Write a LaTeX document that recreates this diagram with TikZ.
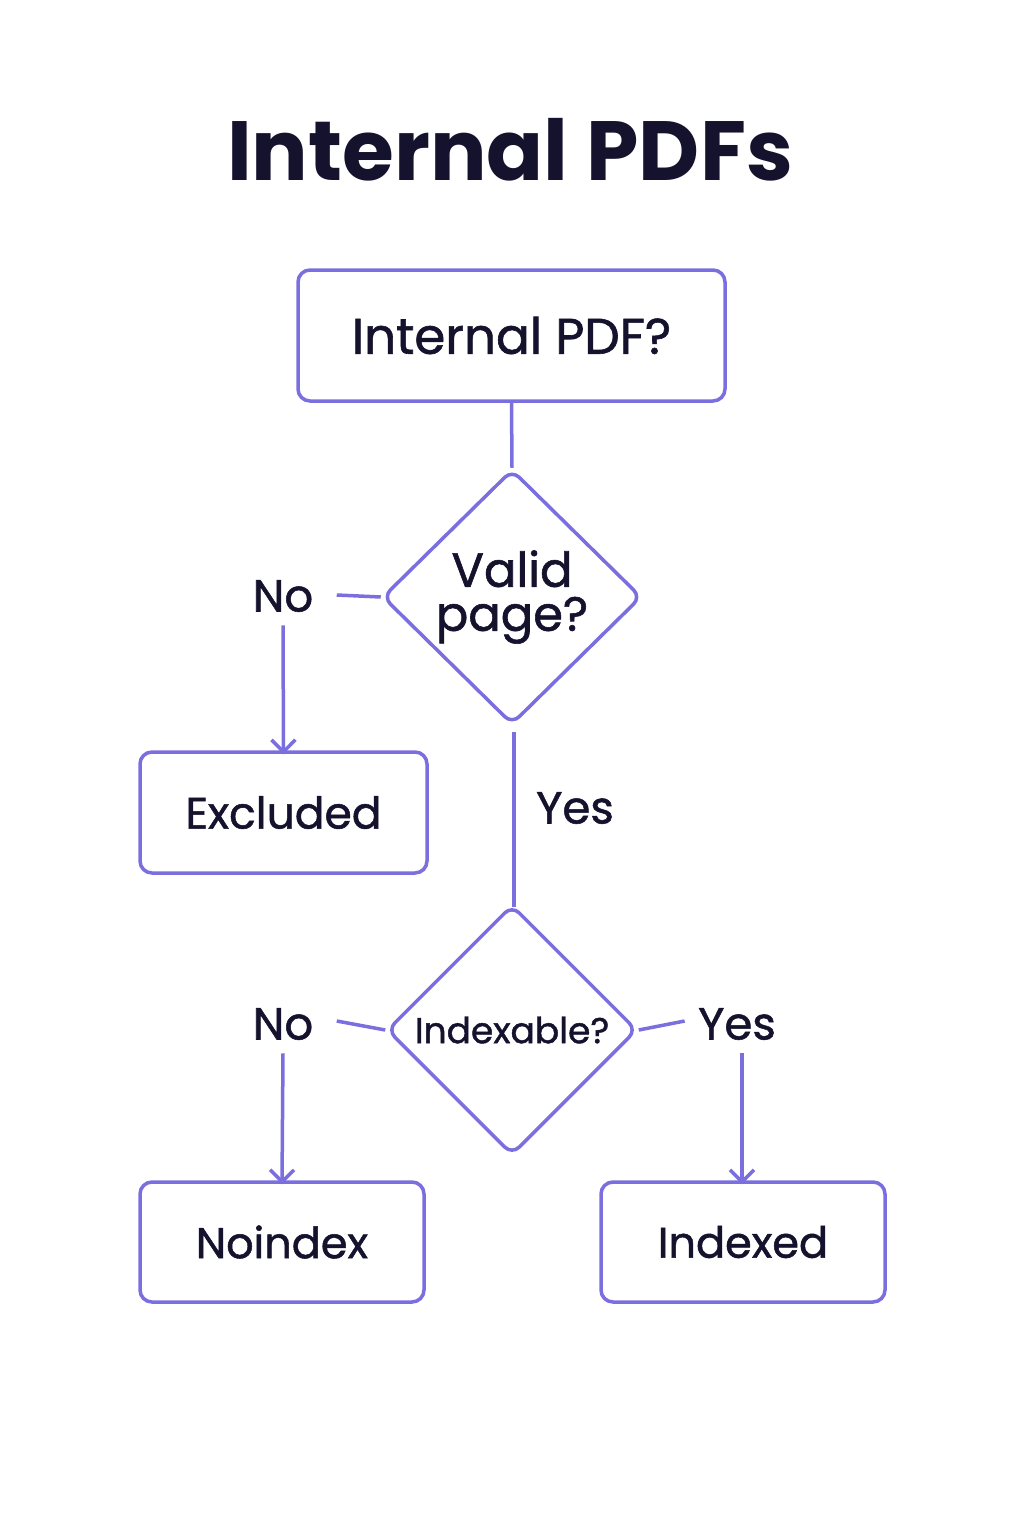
\documentclass[tikz,border=0pt]{standalone}
\usepackage{fontspec}
\setmainfont{Poppins}
\usetikzlibrary{shapes.geometric,arrows.meta}
\definecolor{pur}{HTML}{7B6FE0}
\definecolor{ink}{HTML}{15122D}
\newcommand{\fb}{\addfontfeature{FakeBold=1.2}}
\begin{document}
\begin{tikzpicture}[x=1pt,y=-1pt,
 box/.style={draw=pur,line width=3.5pt,rounded corners=12pt,text=ink,inner sep=0pt},
 dia/.style={draw=pur,line width=3.5pt,diamond,rounded corners=10pt,text=ink,inner sep=0pt},
 lab/.style={text=ink,font=\fontsize{45}{50}\selectfont\fb},
 ln/.style={draw=pur,line width=3.5pt},
 ar/.style={ln,-{Straight Barb[length=12pt,width=24pt,line width=3.5pt]}}]
\useasboundingbox[fill=white] (0,0) rectangle (1024,1536);
\node[text=ink,font=\fontsize{84}{90}\selectfont\bfseries] (title) at (510,150) {Internal PDFs};
\node[box,minimum width=427pt,minimum height=131pt,font=\fontsize{50}{58}\selectfont\fb] (q) at (511.5,335.5) {Internal PDF?};
\node[dia,minimum width=259pt,minimum height=255pt,align=center,font=\fontsize{48}{54}\selectfont\fb] (v) at (512,597) {Valid\\[-10pt]page?};
\node[box,minimum width=287pt,minimum height=121pt,font=\fontsize{44}{54}\selectfont\fb] (ex) at (283.5,812.5) {Excluded};
\node[dia,minimum width=250pt,minimum height=250pt,font=\fontsize{36}{42}\selectfont\fb] (ix) at (512,1030) {Indexable?};
\node[box,minimum width=284pt,minimum height=120pt,font=\fontsize{43}{52}\selectfont\fb] (ni) at (282,1242) {Noindex};
\node[box,minimum width=284pt,minimum height=120pt,font=\fontsize{43}{52}\selectfont\fb] (id) at (743,1242) {Indexed};
\node[lab] (no1) at (283,596) {No};
\node[lab] (yes1) at (575,808) {Yes};
\node[lab] (no2) at (283,1024) {No};
\node[lab] (yes2) at (737,1024) {Yes};
\draw[ln] (q.south) -- (v.north);
\draw[ln] (v.west) -- ([xshift=20pt,yshift=1pt]no1.east);
\draw[ar] (no1.south) ++(0,10) -- ([yshift=-4pt]ex.north);
\draw[ln] (v.south) ++(2,6) coordinate (vs) -- ([xshift=2pt,yshift=-4pt]ix.north);
\draw[ln] (ix.west) -- ([xshift=20pt,yshift=3pt]no2.east);
\draw[ln] (ix.east) -- ([xshift=-10pt,yshift=3pt]yes2.west);
\draw[ar] (no2.south) ++(0,10) -- ([yshift=-4pt]ni.north);
\draw[ar] (yes2.south) ++(5,10) -- ([xshift=-1pt,yshift=-4pt]id.north);
\end{tikzpicture}
\end{document}
